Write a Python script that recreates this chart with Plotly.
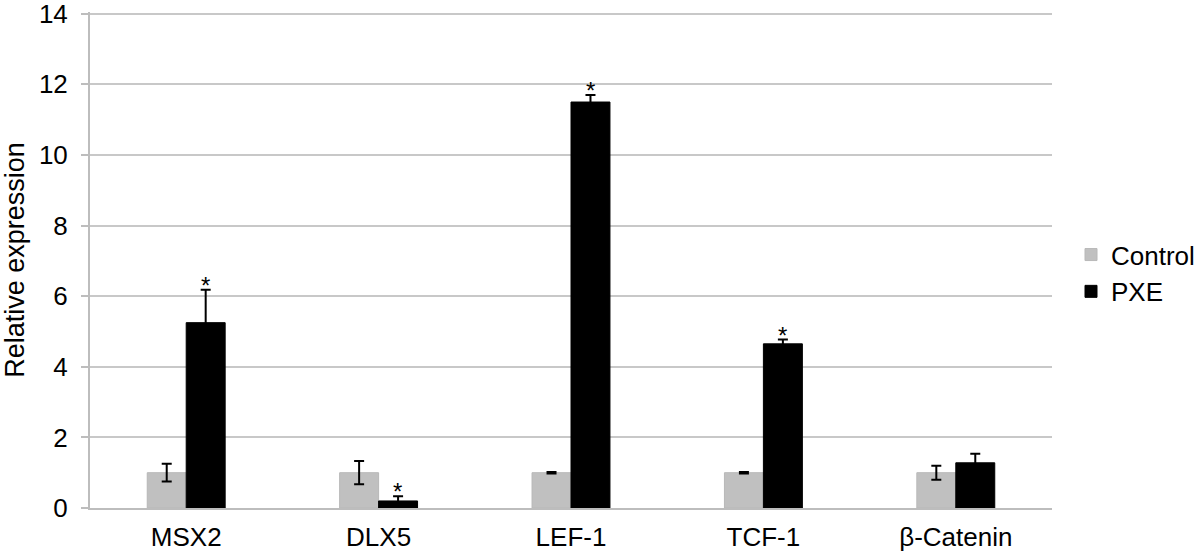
import plotly.graph_objects as go

# data
genes = ["MSX2", "DLX5", "LEF-1", "TCF-1", "β-Catenin"]
control_vals = [1.0, 1.0, 1.0, 1.0, 1.0]
control_err = [0.25, 0.33, 0.02, 0.02, 0.2]
pxe_vals = [5.25, 0.2, 11.5, 4.65, 1.28]
pxe_err = [0.93, 0.13, 0.2, 0.12, 0.26]
significant = [True, True, True, True, False]

y_ticks = [0, 2, 4, 6, 8, 10, 12, 14]

FONT = "Liberation Sans, Arial, sans-serif"

fig = go.Figure()

fig.add_trace(go.Bar(
    name="Control",
    x=genes,
    y=control_vals,
    marker=dict(color="#c0c0c0", line=dict(color="#b8b8b8", width=1)),
    error_y=dict(type="data", array=control_err, visible=True,
                 color="black", thickness=2, width=5),
))

fig.add_trace(go.Bar(
    name="PXE",
    x=genes,
    y=pxe_vals,
    marker=dict(color="black", line=dict(color="black", width=1)),
    error_y=dict(type="data", array=pxe_err, visible=True,
                 color="black", thickness=2, width=5),
))

# asterisks over the PXE bars
for gene, v, e, sig in zip(genes, pxe_vals, pxe_err, significant):
    if sig:
        fig.add_annotation(
            x=gene, y=v + e, text="*", showarrow=False,
            xshift=19, yshift=-11, yanchor="bottom",
            font=dict(family=FONT, size=24, color="black"),
        )

fig.update_layout(
    width=1200,
    height=557,
    margin=dict(l=90, r=148, t=12, b=49),
    plot_bgcolor="white",
    paper_bgcolor="white",
    barmode="group",
    bargap=0.595,
    bargroupgap=0,
    font=dict(family=FONT, size=26, color="black"),
    legend=dict(
        xref="container", yref="container",
        x=1.0, y=0.585, xanchor="right", yanchor="top",
        font=dict(family=FONT, size=26, color="black"),
        tracegroupgap=4,
    ),
    xaxis=dict(
        showgrid=False,
        showline=True, linecolor="#bdbdbd", linewidth=2,
        ticks="", tickfont=dict(size=26), ticklabelstandoff=5,
        automargin=False,
    ),
    yaxis=dict(
        range=[0, 14.05],
        tickvals=y_ticks,
        showgrid=True, gridcolor="#c8c8c8", gridwidth=2,
        showline=True, linecolor="#bdbdbd", linewidth=2,
        ticks="outside", ticklen=7, tickcolor="#bdbdbd", tickwidth=2,
        tickfont=dict(size=26), ticklabelstandoff=8,
        ticklabeloverflow="allow",
        title=dict(text="Relative expression", font=dict(size=27), standoff=6),
        zeroline=False,
        automargin=False,
    ),
)

fig.write_html(
    "out.html",
    config={"displayModeBar": False},
    post_script="document.body.style.margin='0';",
)
